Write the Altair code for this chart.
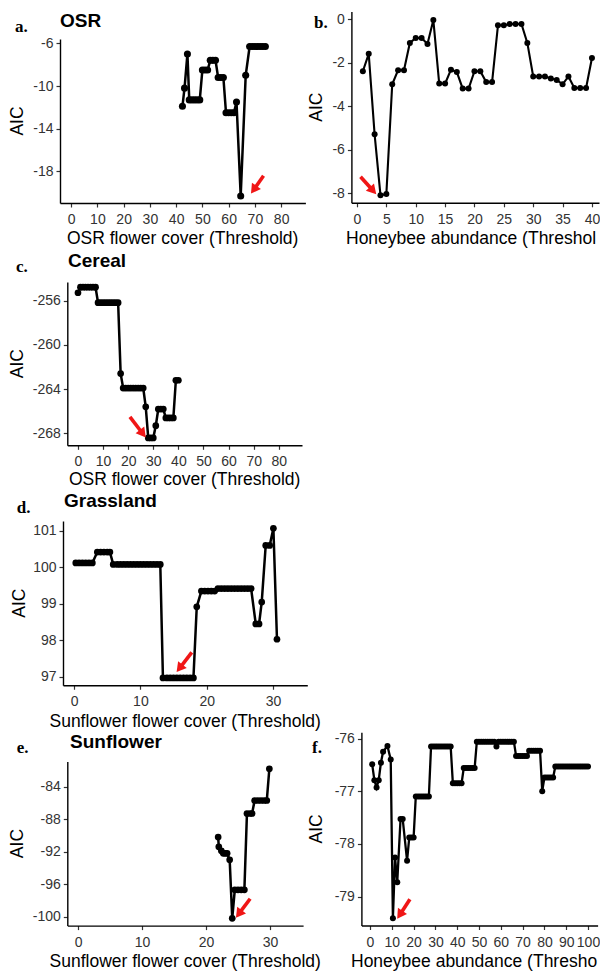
import altair as alt
import pandas as pd

# ---------------- data ----------------
a_x = [42.4, 43.2, 44.3, 45, 46, 47, 48, 49, 50, 51, 52, 53, 54, 55, 56, 57, 58,
       59, 60, 61, 62, 63, 64.6, 66.5, 68, 69, 70, 71, 72, 73, 74]
a_y = [-11.9, -10.2, -7.0, -11.3, -11.3, -11.3, -11.3, -11.3, -8.5, -8.5, -8.5,
       -7.6, -7.6, -7.6, -9.2, -9.2, -9.2, -12.5, -12.5, -12.5, -12.5, -11.5,
       -20.3, -9.0, -6.3, -6.3, -6.3, -6.3, -6.3, -6.3, -6.3]

b_x = [1, 2, 3, 4, 5, 6, 7, 8, 9, 10, 11, 12, 13, 14, 15, 16, 17, 18, 19, 20,
       21, 22, 23, 24, 25, 26, 27, 28, 29, 30, 31, 32, 33, 34, 35, 36, 37, 38, 39, 40]
b_y = [-2.4, -1.6, -5.3, -8.1, -8.05, -3.0, -2.35, -2.35, -1.1, -0.87,
       -0.87, -1.15, -0.05, -2.97, -2.97, -2.33, -2.44, -3.2, -3.2, -2.4,
       -2.4, -2.9, -2.9, -0.29, -0.29, -0.23, -0.23, -0.23, -1.1, -2.64,
       -2.64, -2.64, -2.74, -2.8, -3.0, -2.64, -3.17, -3.17, -3.17, -1.79]

c_x = [0, 1, 2, 3, 4, 5, 6, 7, 8, 9, 10, 11, 12, 13, 14, 15, 16, 17, 18, 19, 20,
       21, 22, 23, 24, 25, 26, 27, 28, 29, 30, 31, 32, 33, 34, 35, 36, 37, 38, 39, 40]
c_y = [-255.3, -254.8, -254.8, -254.8, -254.8, -254.8, -254.8, -254.8,
       -256.2, -256.2, -256.2, -256.2, -256.2, -256.2, -256.2, -256.2, -256.2,
       -262.6, -263.9, -263.9, -263.9, -263.9, -263.9, -263.9, -263.9, -263.9, -263.9,
       -265.6, -268.4, -268.4, -268.4, -267.3, -265.8, -265.8, -265.8,
       -266.6, -266.6, -266.6, -266.6, -263.2, -263.2]

d_x = [0.25, 0.75, 1.25, 1.75, 2.25, 2.75,
       3.5, 4.0, 4.5, 5.0, 5.4,
       5.9, 6.5, 7.0, 7.5, 8.0, 8.5, 9.0, 9.5, 10.0, 10.5, 11.0, 11.5, 12.0, 12.5, 13.0,
       13.4, 14.0, 14.5, 15.0, 15.5, 16.0, 16.5, 17.0, 17.5, 18.0,
       18.5,
       19.2, 19.7, 20.2, 20.7, 21.2,
       21.7, 22.2, 22.7, 23.2, 23.7, 24.2, 24.7, 25.2, 25.7, 26.2, 26.7,
       27.4, 27.9, 28.3, 28.9, 29.5, 30.06, 30.6]
d_y = [100.12, 100.12, 100.12, 100.12, 100.12, 100.12,
       100.42, 100.42, 100.42, 100.42, 100.42,
       100.08, 100.08, 100.08, 100.08, 100.08, 100.08, 100.08, 100.08, 100.08, 100.08,
       100.08, 100.08, 100.08, 100.08, 100.08,
       96.97, 96.97, 96.97, 96.97, 96.97, 96.97, 96.97, 96.97, 96.97, 96.97,
       98.92,
       99.35, 99.35, 99.35, 99.35, 99.35,
       99.42, 99.42, 99.42, 99.42, 99.42, 99.42, 99.42, 99.42, 99.42, 99.42, 99.42,
       98.45, 98.45, 99.05, 100.6, 100.6, 101.07, 98.03]

e_x = [21.9, 22.0, 22.4, 22.7, 23.0, 23.3, 23.7, 24.1, 24.5, 25.0, 25.5, 26.0,
       26.4, 26.9, 27.2, 27.6, 28.1, 28.6, 29.1, 29.5, 29.9]
e_y = [-90.2, -91.4, -91.9, -92.2, -92.2, -92.2, -93.0, -100.2, -96.7, -96.7, -96.7, -96.7,
       -87.3, -87.3, -87.3, -85.7, -85.7, -85.7, -85.7, -85.7, -81.8]

f_x = [1, 2, 3, 4, 5, 6, 8, 9.5, 10.5, 11.5, 12.5, 14, 15, 17, 18, 19, 20,
       21, 22, 23, 24, 25, 26, 27,
       28, 29, 30, 31, 32, 33, 34, 35, 36, 37,
       38, 39, 40, 41, 42,
       43, 44, 45, 46, 47, 48,
       49, 50, 51, 52, 53, 54, 55, 56, 57, 58, 59, 60, 61, 62, 63, 64, 65, 66,
       67, 68, 69, 70, 71, 72,
       73, 74, 75, 76, 77, 78,
       79,
       80, 81, 82, 83, 84,
       85, 86, 87, 88, 89, 90, 91, 92, 93, 94, 95, 96, 97, 98, 99, 100]
f_y = [-76.49, -76.79, -76.93, -76.79, -76.46, -76.25, -76.14, -76.4, -79.41, -78.26,
       -78.73, -77.53, -77.53, -78.32, -77.88, -77.88, -77.88,
       -77.1, -77.1, -77.1, -77.1, -77.1, -77.1, -77.1,
       -76.15, -76.15, -76.15, -76.15, -76.15, -76.15, -76.15, -76.15, -76.15, -76.15,
       -76.85, -76.85, -76.85, -76.85, -76.85,
       -76.56, -76.56, -76.56, -76.56, -76.56, -76.56,
       -76.06, -76.06, -76.06, -76.06, -76.06, -76.06, -76.06, -76.06, -76.06, -76.15,
       -76.06, -76.06, -76.06, -76.06, -76.06, -76.06, -76.06, -76.06,
       -76.33, -76.33, -76.33, -76.33, -76.33, -76.33,
       -76.23, -76.23, -76.23, -76.23, -76.23, -76.23,
       -77.0,
       -76.74, -76.74, -76.74, -76.74, -76.74,
       -76.53, -76.53, -76.53, -76.53, -76.53, -76.53, -76.53, -76.53,
       -76.53, -76.53, -76.53, -76.53, -76.53, -76.53, -76.53, -76.53]

# red arrows (tail -> tip), data units of each panel: a, b, c, d, e, f
arrow_tail_x = [73.3, 0.6, 20.7, 17.75, 26.9, 18.3]
arrow_tail_y = [-18.4, -7.25, -266.5, 97.67, -97.8, -79.05]
arrow_head_x = [68.8, 3.13, 26.7, 15.58, 24.8, 12.8]
arrow_head_y = [-19.97, -8.01, -268.27, 97.16, -100.0, -79.4]

a_xticks = [0, 10, 20, 30, 40, 50, 60, 70, 80]
a_yticks = [-6, -10, -14, -18]
b_xticks = [0, 5, 10, 15, 20, 25, 30, 35, 40]
b_yticks = [0, -2, -4, -6, -8]
c_xticks = [0, 10, 20, 30, 40, 50, 60, 70, 80]
c_yticks = [-256, -260, -264, -268]
d_xticks = [0, 10, 20, 30]
d_yticks = [97, 98, 99, 100, 101]
e_xticks = [0, 10, 20, 30]
e_yticks = [-84, -88, -92, -96, -100]
f_xticks = [0, 10, 20, 30, 40, 50, 60, 70, 80, 90, 100]
f_yticks = [-76, -77, -78, -79]

panel_letters = ["a.", "b.", "c.", "d.", "e.", "f."]
panel_titles = ["OSR", "Cereal", "Grassland", "Sunflower"]
x_titles = ["OSR flower cover (Threshold)", "Honeybee abundance (Threshold)",
            "Sunflower flower cover (Threshold)"]
y_title = "AIC"

# ---------------- styles / layout ----------------
FONT = "Liberation Sans"
SERIF = "Liberation Serif"
RED = "#f01616"

# arrow head angle (deg, clockwise from up) and pull-back offsets (px)
ARROW_STYLE = [(215, 2.9, -4.1), (138, -3.35, -3.7), (142, -3.1, -3.95),
               (218, 3.1, -3.9), (217, 3.0, -4.0), (214, 2.8, -4.15)]

# page geometry: plot origin (x0, y0), plot size (w, h), and the cell (L, T, R, B)
# that each panel's view occupies; every view fills its cell exactly.
# The drawable width is 8..600 (8px body margin on both sides).
P = {
    "a": dict(x0=60.0, y0=39.0, w=245.4, h=164.0, xdom=[-4.25, 89.25], ydom=[-20.95, -5.6],
              cell=(8, 8, 308, 248.5), ms=50, lw=2.5),
    "b": dict(x0=351.4, y0=11.4, w=247.6, h=191.4, xdom=[-0.95, 41.2], ydom=[-8.45, 0.35],
              cell=(308, 8, 600, 248.5), ms=36, lw=2.1),
    "c": dict(x0=67.3, y0=281.5, w=234.7, h=163.3, xdom=[-4.25, 89.25], ydom=[-269.07, -254.33],
              cell=(8, 248.5, 308, 489), ms=45, lw=2.5),
    "d": dict(x0=63.0, y0=520.0, w=244.3, h=164.25, xdom=[-1.675, 35.175], ydom=[96.77, 101.27],
              cell=(8, 489, 310, 729.5), ms=45, lw=2.5),
    "e": dict(x0=67.3, y0=760.0, w=235.8, h=164.1, xdom=[-1.675, 35.175], ydom=[-101.1, -80.9],
              cell=(8, 729.5, 326, 970), ms=45, lw=2.5),
    "f": dict(x0=361.4, y0=730.7, w=236.2, h=193.3, xdom=[-3.95, 104.4], ydom=[-79.55, -75.88],
              cell=(326, 729.5, 600, 970), ms=36, lw=2.3),
}

ONE = pd.DataFrame({"t": [0]})


def txt(p, s, px, py, size, weight="normal", font=FONT, angle=None, align="left",
        baseline="alphabetic", limit=None, color="black"):
    L, T, _, _ = p["cell"]
    kw = dict(font=font, fontSize=size, fontWeight=weight, align=align,
              baseline=baseline, color=color)
    if angle is not None:
        kw["angle"] = angle
    if limit is not None:
        kw["limit"] = limit
        kw["ellipsis"] = "\u200b"
    return alt.Chart(pd.DataFrame({"t": [s]})).mark_text(**kw).encode(
        x=alt.value(px - L), y=alt.value(py - T), text="t:N")


def panel(key, xs, ys, xticks, yticks, ai, texts):
    p = P[key]
    L, T, R, B = p["cell"]
    W, H = R - L, B - T
    lx0, ly0 = p["x0"] - L, p["y0"] - T
    xsc = alt.Scale(domain=p["xdom"], range=[lx0, lx0 + p["w"]], nice=False, zero=False)
    ysc = alt.Scale(domain=p["ydom"], range=[ly0 + p["h"], ly0], nice=False, zero=False)
    xax = alt.Axis(values=xticks, title=None, labelExpr="'' + datum.value", grid=False,
                   offset=(ly0 + p["h"]) - H)
    yax = alt.Axis(values=yticks, title=None, labelExpr="'' + datum.value", grid=False,
                   offset=-lx0)

    def X(f):
        return alt.X(f, type="quantitative", scale=xsc, axis=xax)

    def Y(f):
        return alt.Y(f, type="quantitative", scale=ysc, axis=yax)

    df = pd.DataFrame({"x": xs, "y": ys})
    base = alt.Chart(df).encode(x=X("x"), y=Y("y"))
    line = base.mark_line(color="black", strokeWidth=p["lw"])
    pts = base.mark_circle(color="black", size=p["ms"], opacity=1)

    adf = pd.DataFrame({"x": [arrow_tail_x[ai]], "y": [arrow_tail_y[ai]],
                        "x2": [arrow_head_x[ai]], "y2": [arrow_head_y[ai]]})
    ang, ox, oy = ARROW_STYLE[ai]
    shaft = alt.Chart(adf).mark_rule(color=RED, strokeWidth=3.6, x2Offset=ox, y2Offset=oy).encode(
        x=X("x"), y=Y("y"), x2=alt.X2("x2"), y2=alt.Y2("y2"))
    head = alt.Chart(adf).mark_point(shape="triangle", filled=True, color=RED, opacity=1,
                                     size=120, angle=ang, xOffset=ox, yOffset=oy).encode(
        x=X("x2"), y=Y("y2"))

    anchor = alt.Chart(ONE).mark_rect(opacity=0).encode(
        x=alt.value(0), x2=alt.value(W), y=alt.value(0), y2=alt.value(H))

    layers = [anchor, line, pts, shaft, head] + [t(p) for t in texts]
    return alt.layer(*layers).properties(width=W, height=H)


def letter(s, px, py):
    return lambda p: txt(p, s, px, py, 17, weight="bold", font=SERIF)


def ptitle(s, px, py):
    return lambda p: txt(p, s, px, py, 19, weight="bold")


def aic(px, py):
    return lambda p: txt(p, y_title, px, py, 17.5, angle=270, align="center", baseline="middle")


def xtitle(s, px, py, align="center", limit=None):
    return lambda p: txt(p, s, px, py, 17.5, align=align, limit=limit)


pa, pb, pc, pd_, pe, pf = (P[k] for k in "abcdef")

A = panel("a", a_x, a_y, a_xticks, a_yticks, 0, [
    letter(panel_letters[0], 15, 31.5), ptitle(panel_titles[0], 60, 26.7),
    aic(17.5, pa["y0"] + pa["h"] / 2),
    xtitle(x_titles[0], pa["x0"] + pa["w"] / 2, 243.5)])

B = panel("b", b_x, b_y, b_xticks, b_yticks, 1, [
    letter(panel_letters[1], 314, 27.5),
    aic(317, pb["y0"] + pb["h"] / 2),
    xtitle(x_titles[1], 346, 243.5, align="left", limit=254)])

C = panel("c", c_x, c_y, c_xticks, c_yticks, 2, [
    letter(panel_letters[2], 16, 271.7), ptitle(panel_titles[1], 68, 266.7),
    aic(17.5, pc["y0"] + pc["h"] / 2),
    xtitle(x_titles[0], pc["x0"] + pc["w"] / 2, 484)])

D = panel("d", d_x, d_y, d_xticks, d_yticks, 3, [
    letter(panel_letters[3], 16.7, 511.7), ptitle(panel_titles[2], 64, 506),
    aic(19.5, pd_["y0"] + pd_["h"] / 2),
    xtitle(x_titles[2], pd_["x0"] + pd_["w"] / 2, 725.5)])

E = panel("e", e_x, e_y, e_xticks, e_yticks, 4, [
    letter(panel_letters[4], 16.7, 751.5), ptitle(panel_titles[3], 70, 746),
    aic(17.5, pe["y0"] + pe["h"] / 2),
    xtitle(x_titles[2], pe["x0"] + pe["w"] / 2, 965.5),
    letter(panel_letters[5], 312, 751.5),
    aic(317, pf["y0"] + pf["h"] / 2)])

F = panel("f", f_x, f_y, f_xticks, f_yticks, 5, [
    xtitle(x_titles[1], 351, 965.5, align="left", limit=249)])

chart = alt.vconcat(
    alt.hconcat(A, B, spacing=0),
    C,
    D,
    alt.hconcat(E, F, spacing=0),
    spacing=0,
).properties(padding=0).configure_view(stroke=None).configure_axis(
    domainColor="black", domainWidth=1.4, tickColor="#333333", tickWidth=1.2, tickSize=4,
    labelFont=FONT, labelFontSize=14, labelColor="#333333", labelFlush=False,
    labelOverlap=False, grid=False,
).configure_axisX(labelPadding=5.5).configure_axisY(labelPadding=3)

chart.save("out.html", embed_options={"renderer": "svg", "actions": False})
